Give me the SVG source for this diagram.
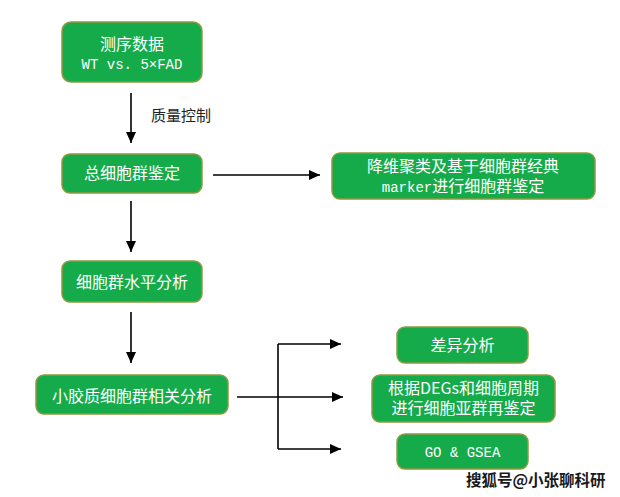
<svg xmlns="http://www.w3.org/2000/svg" width="620" height="497" viewBox="0 0 620 497">
<defs>
<style>
.box{fill:#16ab4a;stroke:#8f9a3e;stroke-width:1.5}
.t{fill:#ffffff;font-family:"Noto Sans CJK SC","Noto Sans",sans-serif;font-size:16px;text-anchor:middle}
.m{font-family:"Liberation Mono",monospace;font-size:14px}
.lbl{fill:#222222;font-family:"Noto Sans CJK SC","Noto Sans",sans-serif;font-size:15px}
.c{stroke:#000000;stroke-width:1.6;fill:none}
.a{marker-end:url(#ah)}
.wm{fill:#1a1a1a;stroke:#ffffff;stroke-width:0.6;paint-order:stroke;font-family:"Noto Sans CJK SC",sans-serif;font-size:15.5px;font-weight:bold}
</style>
<marker id="ah" markerUnits="userSpaceOnUse" markerWidth="11" markerHeight="10" refX="11" refY="5" orient="auto">
<path d="M0,0 L11,5 L0,10 z" fill="#000000"/>
</marker>
</defs>
<rect width="620" height="497" fill="#ffffff"/>
<g id="connectors">
<line class="c a" x1="131" y1="93" x2="131" y2="143"/>
<line class="c a" x1="213" y1="175" x2="320" y2="175"/>
<line class="c a" x1="131" y1="201" x2="131" y2="252"/>
<line class="c a" x1="131" y1="312" x2="131" y2="363"/>
<line class="c" x1="237" y1="397" x2="278" y2="397"/>
<line class="c" x1="278" y1="344" x2="278" y2="449"/>
<line class="c a" x1="278" y1="344" x2="341" y2="344"/>
<line class="c a" x1="278" y1="397" x2="343" y2="397"/>
<line class="c a" x1="278" y1="449" x2="341" y2="449"/>
<text class="lbl" x="151" y="121">质量控制</text>
</g>
<g id="node-data">
<rect class="box" x="62" y="22" width="140" height="60" rx="9"/>
<text class="t" x="132" y="50">测序数据<tspan class="m" x="132" dy="19">WT vs. 5×FAD</tspan></text>
</g>
<g id="node-total">
<rect class="box" x="62" y="154" width="140" height="39" rx="8"/>
<text class="t" x="132" y="179">总细胞群鉴定</text>
</g>
<g id="node-umap">
<rect class="box" x="332" y="153" width="263" height="46" rx="8"/>
<text class="t" x="463" y="172">降维聚类及基于细胞群经典<tspan x="463" dy="20"><tspan class="m">marker</tspan>进行细胞群鉴定</tspan></text>
</g>
<g id="node-level">
<rect class="box" x="62" y="261" width="140" height="41" rx="8"/>
<text class="t" x="132" y="288">细胞群水平分析</text>
</g>
<g id="node-microglia">
<rect class="box" x="36" y="375" width="192" height="39" rx="8"/>
<text class="t" x="132" y="402">小胶质细胞群相关分析</text>
</g>
<g id="node-deg">
<rect class="box" x="397" y="327" width="131" height="36" rx="8"/>
<text class="t" x="462.5" y="351">差异分析</text>
</g>
<g id="node-recluster">
<rect class="box" x="372" y="375" width="183" height="47" rx="8"/>
<text class="t" x="463.5" y="394">根据DEGs和细胞周期<tspan x="463.5" dy="20">进行细胞亚群再鉴定</tspan></text>
</g>
<g id="node-go">
<rect class="box" x="397" y="434" width="131" height="35" rx="8"/>
<text class="t m" x="462.5" y="457">GO &amp; GSEA</text>
</g>
<text class="wm" x="466" y="486">搜狐号@小张聊科研</text>
</svg>
